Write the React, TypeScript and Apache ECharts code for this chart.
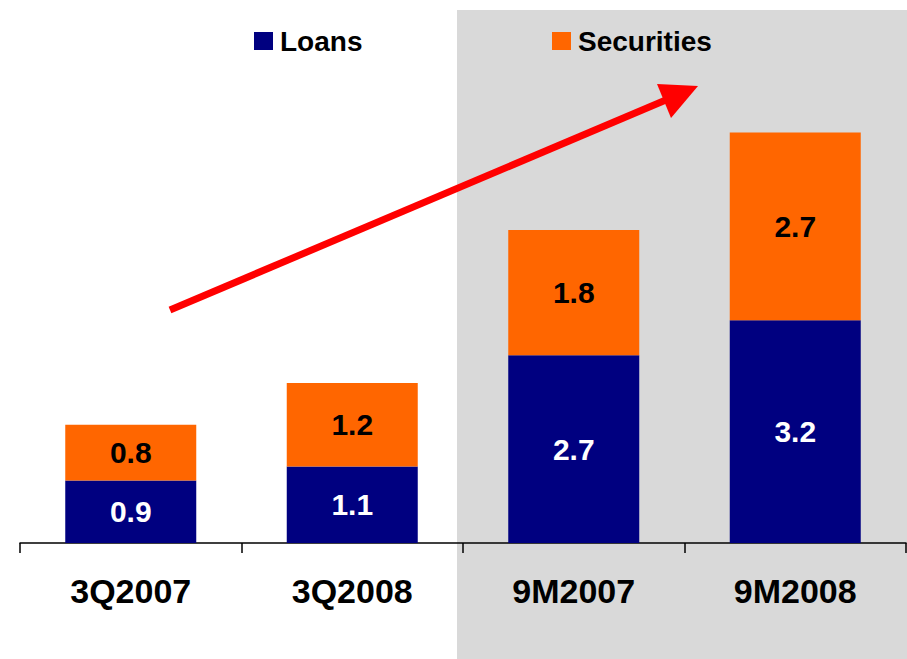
import React, { useEffect, useRef } from "react";
import * as echarts from "echarts";

const categories = ["3Q2007", "3Q2008", "9M2007", "9M2008"];
const loans = [0.9, 1.1, 2.7, 3.2];
const securities = [0.8, 1.2, 1.8, 2.7];

const FONT = 'Arial, "Liberation Sans", sans-serif';

export default function App() {
  const ref = useRef<HTMLDivElement>(null);

  useEffect(() => {
    if (!ref.current) return;
    const chart = echarts.init(ref.current, undefined, { renderer: "svg" });
    const legendText = {
      fontFamily: FONT,
      fontWeight: "bold",
      fontSize: 28,
      color: "#000",
      lineHeight: 18,
      padding: [0, 0, 0, 2],
    };
    chart.setOption({
      animation: false,
      backgroundColor: "#ffffff",
      grid: { left: 20, right: 1, top: 56, bottom: 116, containLabel: false },
      legend: [
        {
          data: ["Loans"],
          left: 249,
          top: 22,
          itemWidth: 19,
          itemHeight: 18,
          icon: "rect",
          itemStyle: { borderWidth: 0 },
          textStyle: legendText,
        },
        {
          data: ["Securities"],
          left: 547,
          top: 22,
          itemWidth: 19,
          itemHeight: 18,
          icon: "rect",
          itemStyle: { borderWidth: 0 },
          textStyle: legendText,
        },
      ],
      xAxis: {
        type: "category",
        data: categories,
        axisLine: { lineStyle: { color: "#000", width: 1.5 } },
        axisTick: { show: true, length: 10, lineStyle: { color: "#000", width: 1.5 } },
        axisLabel: {
          margin: 31,
          fontFamily: FONT,
          fontWeight: "bold",
          fontSize: 34,
          color: "#000",
        },
        splitLine: { show: false },
      },
      yAxis: {
        type: "value",
        min: 0,
        max: 7,
        show: false,
        splitLine: { show: false },
      },
      graphic: [
        {
          type: "rect",
          z: -10,
          silent: true,
          shape: { x: 457, y: 10, width: 450, height: 649 },
          style: { fill: "#D9D9D9" },
        },
        {
          type: "line",
          z: 100,
          shape: { x1: 170, y1: 310, x2: 680, y2: 94 },
          style: { stroke: "#FF0000", lineWidth: 7 },
        },
        {
          type: "polygon",
          z: 100,
          shape: {
            points: [
              [657, 84],
              [698, 86],
              [671, 118],
            ],
          },
          style: { fill: "#FF0000" },
        },
      ],
      series: [
        {
          name: "Loans",
          type: "bar",
          stack: "total",
          data: loans,
          barWidth: 131,
          itemStyle: { color: "#000080" },
          label: {
            show: true,
            position: "inside",
            fontFamily: FONT,
            fontWeight: "bold",
            fontSize: 30,
            color: "#ffffff",
          },
        },
        {
          name: "Securities",
          type: "bar",
          stack: "total",
          data: securities,
          barWidth: 131,
          itemStyle: { color: "#FF6600" },
          label: {
            show: true,
            position: "inside",
            fontFamily: FONT,
            fontWeight: "bold",
            fontSize: 30,
            color: "#000000",
          },
        },
      ],
    });
    return () => chart.dispose();
  }, []);

  return (
    <div
      ref={ref}
      style={{ position: "absolute", left: 0, top: 0, width: 907, height: 659 }}
    />
  );
}
